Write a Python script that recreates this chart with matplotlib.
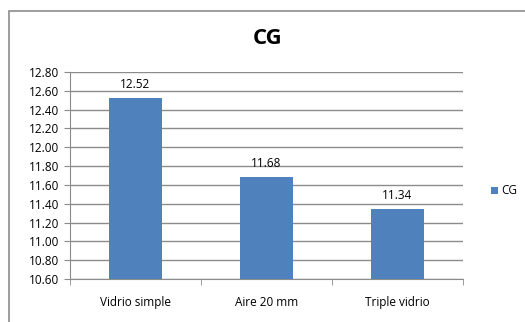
import matplotlib

matplotlib.use("Agg")
import matplotlib.pyplot as plt
from matplotlib.patches import Rectangle
import numpy as np

categories = ["Vidrio simple", "Aire 20 mm", "Triple vidrio"]
values = [12.52, 11.68, 11.34]
series_name = "CG"
title = "CG"

W, H = 525, 322
plt.rcParams["font.family"] = ["Open Sans", "DejaVu Sans"]

fig = plt.figure(figsize=(W / 100, H / 100), dpi=100)
fig.patch.set_facecolor("white")

# outer chart border (runs off right/bottom edges)
fig.add_artist(Rectangle((9 / W, -0.05), 1.0, 1 - 11 / H + 0.05,
                         transform=fig.transFigure, fill=False,
                         edgecolor="#8c8c8c", linewidth=1.2))

ax = fig.add_axes([70 / W, 1 - 279 / H, (463 - 70) / W, (279 - 72) / H])
x = np.arange(len(categories))
bars = ax.bar(x, values, width=0.4, color="#4F81BD", label=series_name,
              zorder=3)

ax.set_ylim(10.6, 12.8)
ax.set_xlim(-0.5, len(categories) - 0.5)
yt = np.arange(10.6, 12.81, 0.2)
ax.set_yticks(yt)
ax.set_yticklabels([f"{v:.2f}" for v in yt], fontsize=8.5)
ax.yaxis.grid(True, color="#8c8c8c", linewidth=1.0, zorder=0)

ax.set_xticks(x)
ax.set_xticklabels(categories, fontsize=8.5)
ax.tick_params(axis="x", length=0, pad=12)
ax.set_xticks(np.arange(-0.5, len(categories), 1.0), minor=True)
ax.tick_params(axis="x", which="minor", length=4, color="#8c8c8c")
ax.tick_params(axis="y", length=4, color="#8c8c8c", pad=4)

for side in ("top", "right"):
    ax.spines[side].set_visible(False)
for side in ("left", "bottom"):
    ax.spines[side].set_color("#8c8c8c")

for b, v in zip(bars, values):
    ax.text(b.get_x() + b.get_width() / 2, v + 0.08, f"{v:.2f}",
            ha="center", va="bottom", fontsize=8.5)

fig.text(268 / W, 1 - 38 / H, title, ha="center", va="center",
         fontsize=16, fontweight="bold")

fig.legend(handles=[bars], labels=[series_name], loc="center left",
           bbox_to_anchor=(480 / W, 1 - 191 / H), frameon=False,
           fontsize=8.5, handlelength=0.6, handleheight=0.6,
           handletextpad=0.3)

fig.savefig("out.png", dpi=100, facecolor="white")
